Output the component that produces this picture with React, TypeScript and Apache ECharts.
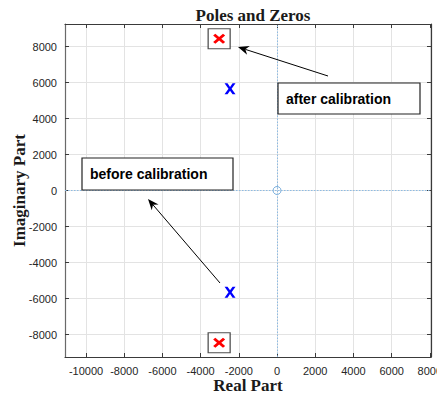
import React, { useEffect, useRef } from "react";
import * as echarts from "echarts";

// ---- data ----
const xTicks = [-10000, -8000, -6000, -4000, -2000, 0, 2000, 4000, 6000, 8000];
const yTicks = [-8000, -6000, -4000, -2000, 0, 2000, 4000, 6000, 8000];
const afterPoleRe = [-3030, -3030];
const afterPoleIm = [8430, -8460];
const beforePoleRe = [-2460, -2460];
const beforePoleIm = [5650, -5650];
const zeroRe = [0];
const zeroIm = [0];
const xRange = [-11100, 8060];
const yRange = [-9250, 9250];

const RED_X =
  "path://M0,1.8 L1.8,0 L5,3.2 L8.2,0 L10,1.8 L6.8,5 L10,8.2 L8.2,10 L5,6.8 L1.8,10 L0,8.2 L3.2,5 Z";
const BLUE_X =
  "path://M0,0 L2.7,0 L5,3.3 L7.3,0 L10,0 L6.4,5 L10,10 L7.3,10 L5,6.7 L2.7,10 L0,10 L3.6,5 Z";

const pairs = (a: number[], b: number[]) => a.map((v, i) => [v, b[i]]);

function arrow(x1: number, y1: number, x2: number, y2: number) {
  const ang = Math.atan2(y2 - y1, x2 - x1);
  const L = 11, W = 4.5;
  const bx = x2 - L * Math.cos(ang), by = y2 - L * Math.sin(ang);
  const px = -Math.sin(ang) * W, py = Math.cos(ang) * W;
  const ix = x2 - L * 0.7 * Math.cos(ang), iy = y2 - L * 0.7 * Math.sin(ang);
  return [
    { type: "line", shape: { x1, y1, x2: ix, y2: iy }, style: { stroke: "#000", lineWidth: 1 }, z: 100 },
    {
      type: "polygon",
      shape: { points: [[x2, y2], [bx + px, by + py], [ix, iy], [bx - px, by - py]] },
      style: { fill: "#000" },
      z: 100,
    },
  ];
}

function textBox(x: number, y: number, w: number, h: number, text: string) {
  return [
    { type: "rect", shape: { x, y, width: w, height: h }, style: { fill: "#fff", stroke: "#222", lineWidth: 1.2 }, z: 100 },
    {
      type: "text",
      x: x + 8,
      y: y + h / 2,
      style: { text, font: "bold 14px 'Liberation Sans', Arial, sans-serif", fill: "#000", verticalAlign: "middle" },
      z: 101,
    },
  ];
}

export default function App() {
  const ref = useRef<HTMLDivElement>(null);
  useEffect(() => {
    document.body.style.margin = "0";
    const chart = echarts.init(ref.current!, null, { renderer: "svg" });
    const axisColor = "#3a3a3a";
    const fmt = (v: number) => String(v);
    const labelStyle = { color: "#262626", fontSize: 11, fontFamily: "'Liberation Sans', Arial, sans-serif", formatter: fmt };
    const nameStyle = { color: "#1a1a1a", fontSize: 17, fontWeight: "bold", fontFamily: "'Liberation Serif', 'Times New Roman', serif" };
    chart.setOption({
      animation: false,
      backgroundColor: "#fff",
      title: {
        text: "Poles and Zeros",
        left: 248,
        textAlign: "center",
        top: 2,
        textStyle: { ...nameStyle, fontSize: 17 },
      },
      grid: { left: 65, right: 6, top: 24, bottom: 40, containLabel: false, outerBoundsMode: "none" },
      xAxis: [
        {
          type: "value",
          min: xRange[0],
          max: xRange[1],
          position: "bottom",
          name: "Real Part",
          nameLocation: "middle",
          nameGap: 20,
          nameMoveOverlap: false,
          nameTextStyle: nameStyle,
          axisLine: { show: true, onZero: false, lineStyle: { color: axisColor, width: 1.2 } },
          axisTick: { show: true, inside: true, length: 4, customValues: xTicks, lineStyle: { color: axisColor } },
          axisLabel: { customValues: xTicks, margin: 8, ...labelStyle },
          splitLine: { show: true, lineStyle: { color: "#e3e3e3", width: 1 } },
        },
        {
          type: "value",
          min: xRange[0],
          max: xRange[1],
          position: "top",
          axisLine: { show: true, onZero: false, lineStyle: { color: axisColor, width: 1.2 } },
          axisTick: { show: true, inside: true, length: 4, customValues: xTicks, lineStyle: { color: axisColor } },
          axisLabel: { show: false, customValues: xTicks },
          splitLine: { show: false },
        },
      ],
      yAxis: [
        {
          type: "value",
          min: yRange[0],
          max: yRange[1],
          position: "left",
          name: "Imaginary Part",
          nameLocation: "middle",
          nameGap: 37,
          nameMoveOverlap: false,
          nameTextStyle: nameStyle,
          axisLine: { show: true, onZero: false, lineStyle: { color: "#6a6a6a", width: 1.2 } },
          axisTick: { show: true, inside: true, length: 4, customValues: yTicks, lineStyle: { color: axisColor } },
          axisLabel: { customValues: yTicks, margin: 8, ...labelStyle },
          splitLine: { show: true, lineStyle: { color: "#e3e3e3", width: 1 } },
        },
        {
          type: "value",
          min: yRange[0],
          max: yRange[1],
          position: "right",
          axisLine: { show: true, onZero: false, lineStyle: { color: axisColor, width: 1.2 } },
          axisTick: { show: true, inside: true, length: 4, customValues: yTicks, lineStyle: { color: axisColor } },
          axisLabel: { show: false, customValues: yTicks },
          splitLine: { show: false },
        },
      ],
      series: [
        {
          type: "scatter",
          name: "zeros",
          data: pairs(zeroRe, zeroIm),
          symbol: "circle",
          symbolSize: 8,
          itemStyle: { color: "rgba(0,0,0,0)", borderColor: "#5a9bd3", borderWidth: 1 },
          markLine: {
            silent: true,
            symbol: ["none", "none"],
            label: { show: false },
            lineStyle: { color: "#8dbbe3", type: [1.5, 1.5], width: 1 },
            data: [{ yAxis: 0 }, { xAxis: 0 }],
          },
          z: 3,
        },
        {
          type: "scatter",
          name: "after-box",
          data: pairs(afterPoleRe, afterPoleIm),
          symbol: "rect",
          symbolSize: [22, 20],
          itemStyle: { color: "#fff", borderColor: "#222", borderWidth: 1.2 },
          z: 4,
        },
        {
          type: "scatter",
          name: "after",
          data: pairs(afterPoleRe, afterPoleIm),
          symbol: RED_X,
          symbolSize: [12, 10],
          itemStyle: { color: "#ff0000", opacity: 1 },
          z: 5,
        },
        {
          type: "scatter",
          name: "before",
          data: pairs(beforePoleRe, beforePoleIm),
          symbol: BLUE_X,
          symbolSize: [11, 11],
          itemStyle: { color: "#0000ff", opacity: 1 },
          z: 5,
        },
      ],
      graphic: [
        ...arrow(328, 76, 238, 47),
        ...arrow(220, 283, 148, 199),
        ...textBox(278, 83, 142, 31, "after calibration"),
        ...textBox(82, 158, 151, 32, "before calibration"),
      ],
    });
    return () => chart.dispose();
  }, []);
  return <div ref={ref} style={{ position: "fixed", left: 0, top: 0, width: 437, height: 397 }} />;
}
